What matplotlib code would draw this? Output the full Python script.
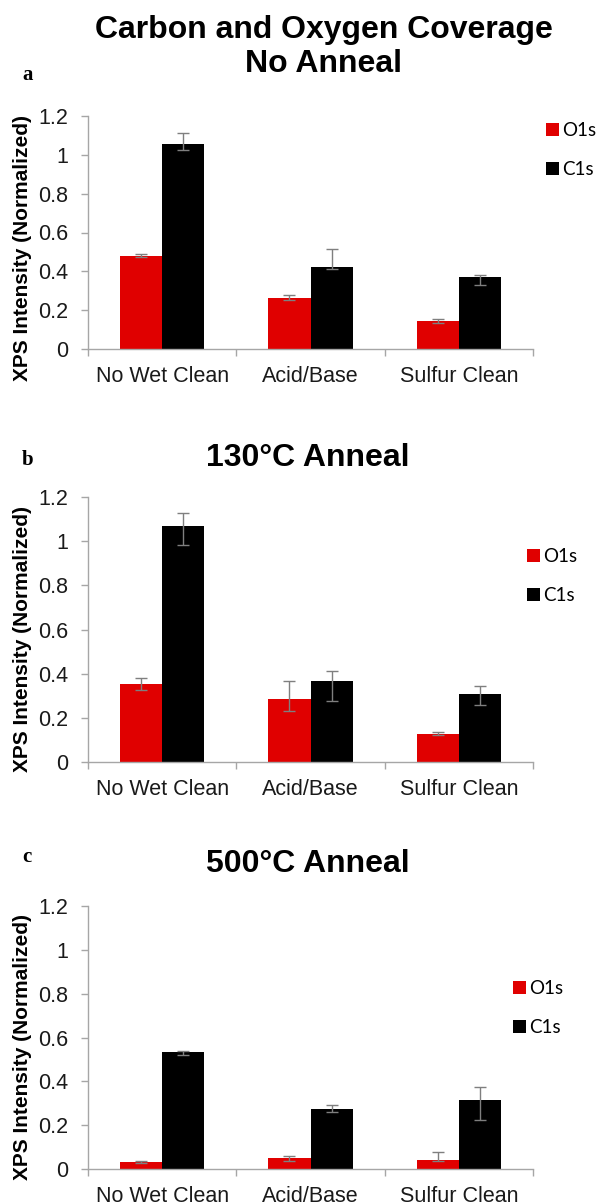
import matplotlib
matplotlib.use("Agg")
import matplotlib.pyplot as plt
import numpy as np

# categories and series
categories = ['No Wet Clean', 'Acid/Base', 'Sulfur Clean']
titles = ['Carbon and Oxygen Coverage\nNo Anneal', '130°C Anneal', '500°C Anneal']
panel_tags = ['a', 'b', 'c']

# panel a - no anneal
o1s_a = [0.480, 0.264, 0.143]
o1s_a_lo = [0.008, 0.013, 0.009]
o1s_a_hi = [0.010, 0.012, 0.012]
c1s_a = [1.055, 0.422, 0.371]
c1s_a_lo = [0.030, 0.012, 0.043]
c1s_a_hi = [0.055, 0.092, 0.008]

# panel b - 130C anneal
o1s_b = [0.353, 0.286, 0.128]
o1s_b_lo = [0.026, 0.055, 0.006]
o1s_b_hi = [0.027, 0.079, 0.007]
c1s_b = [1.068, 0.365, 0.306]
c1s_b_lo = [0.086, 0.088, 0.050]
c1s_b_hi = [0.058, 0.046, 0.036]

# panel c - 500C anneal
o1s_c = [0.033, 0.052, 0.041]
o1s_c_lo = [0.004, 0.014, 0.003]
o1s_c_hi = [0.004, 0.009, 0.038]
c1s_c = [0.533, 0.275, 0.313]
c1s_c_lo = [0.013, 0.017, 0.090]
c1s_c_hi = [0.005, 0.015, 0.059]

yticks = [0, 0.2, 0.4, 0.6, 0.8, 1.0, 1.2]
ytick_labels = ['0', '0.2', '0.4', '0.6', '0.8', '1', '1.2']

panels = [
    (o1s_a, o1s_a_lo, o1s_a_hi, c1s_a, c1s_a_lo, c1s_a_hi),
    (o1s_b, o1s_b_lo, o1s_b_hi, c1s_b, c1s_b_lo, c1s_b_hi),
    (o1s_c, o1s_c_lo, o1s_c_hi, c1s_c, c1s_c_lo, c1s_c_hi),
]

W, H = 599, 1202
fig = plt.figure(figsize=(W / 100, H / 100), dpi=100)

# layout in pixels: (top of 1.2, zero line)
axes_px = [(116, 349), (497, 762), (906, 1169)]
x_left, x_right = 88, 533
title_px = [(324, 47), (308, 458), (308, 864)]
tag_px = [80, 465, 862]
ylabel_px = [248, 639, 1047]
legend_px = [(546, 150), (527, 576), (513, 1008)]

red = '#e00000'
grey = '#a6a6a6'
sans = 'Liberation Sans'

for i, (o, o_lo, o_hi, c, c_lo, c_hi) in enumerate(panels):
    top, bot = axes_px[i]
    ax = fig.add_axes([x_left / W, 1 - bot / H, (x_right - x_left) / W, (bot - top) / H])

    x = np.arange(len(categories))
    w = 0.285
    err_kw = dict(ecolor='#7f7f7f', elinewidth=1, capsize=4, capthick=1)
    ax.bar(x - w / 2, o, w, color=red, label='O1s',
           yerr=[o_lo, o_hi], error_kw=err_kw)
    ax.bar(x + w / 2, c, w, color='black', label='C1s',
           yerr=[c_lo, c_hi], error_kw=err_kw)

    ax.set_xlim(-0.5, 2.5)
    ax.set_ylim(0, 1.2)
    ax.set_yticks(yticks)
    ax.set_yticklabels(ytick_labels, fontfamily=sans, fontsize=15.5, color='#1a1a1a')
    ax.set_xticks(x)
    ax.set_xticklabels(categories, fontfamily=sans, fontsize=15.5, color='#1a1a1a')
    ax.set_xticks([-0.5, 0.5, 1.5, 2.5], minor=True)
    ax.tick_params(axis='x', which='major', length=0, pad=12)
    ax.tick_params(axis='x', which='minor', length=5, color=grey, width=1)
    ax.tick_params(axis='y', length=5, color=grey, width=1, pad=9)

    for s in ['top', 'right']:
        ax.spines[s].set_visible(False)
    for s in ['left', 'bottom']:
        ax.spines[s].set_color(grey)
        ax.spines[s].set_linewidth(1)

    tx, ty = title_px[i]
    fig.text(tx / W, 1 - ty / H, titles[i], ha='center', va='center',
             fontfamily=sans, fontweight='bold', fontsize=23, linespacing=1.15)
    fig.text(22 / W, 1 - tag_px[i] / H, panel_tags[i], ha='left', va='baseline',
             fontfamily='Liberation Serif', fontweight='bold', fontsize=15)
    fig.text(23 / W, 1 - ylabel_px[i] / H, 'XPS Intensity (Normalized)', rotation=90,
             ha='center', va='center', fontfamily=sans, fontweight='bold', fontsize=15)

    lx, ly = legend_px[i]
    ax.legend(loc='center left', bbox_to_anchor=(lx / W, 1 - ly / H),
              bbox_transform=fig.transFigure, frameon=False,
              prop={'family': 'Lato', 'size': 13.5}, handlelength=0.7, handleheight=0.7,
              handletextpad=0.15, labelspacing=1.2, borderpad=0, borderaxespad=0)

fig.savefig('out.png', dpi=100)
